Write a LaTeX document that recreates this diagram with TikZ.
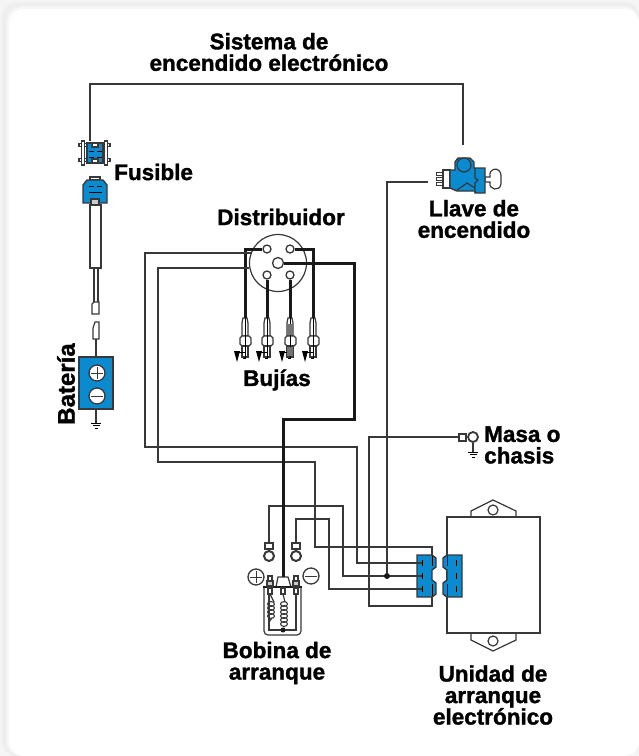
\documentclass[tikz,border=0pt]{standalone}
\usepackage{fontspec}
\setmainfont[BoldFeatures={FakeBold=1.4}]{Liberation Sans}
\definecolor{azul}{HTML}{0A8BD0}
\definecolor{hilo}{HTML}{383838}
\tikzset{
  wire/.style={draw=hilo,line width=1.2pt},
  hvwire/.style={draw=black!90,line width=3pt},
  part/.style={draw=hilo,line width=1.2pt},
  fine/.style={draw=black,line width=.9pt},
  bluepart/.style={draw=hilo,line width=1.4pt,fill=azul},
  contact/.style={circle,draw=hilo,line width=1.3pt,fill=white,inner sep=0pt,minimum size=#1},
  tag/.style={font=\fontsize{22.5}{21.5}\selectfont\bfseries,inner sep=0pt,text=black}
}
\begin{document}
\begin{tikzpicture}[x=1pt,y=-1pt]
    \useasboundingbox (0,0) rectangle (639,756);
    %soft edge of the panel
    \fill[black!4] (0,0) rectangle (639,756);
    \foreach \i/\s in {1/5,3/7,5/6,7/3,9/0}
        \fill[black!\s,rounded corners=15pt] (\i,\i) rectangle (639,756);

    %captions
    \node[tag,align=center] (sistema) at (269,52) {Sistema de\\encendido electrónico};
    \node[tag,anchor=west] (fusiblelab) at (114,172) {Fusible};
    \node[tag] (distlab) at (281,217) {Distribuidor};
    \node[tag,align=center] (llavelab) at (474,219) {Llave de\\encendido};
    \node[tag,rotate=90,font=\fontsize{24}{24}\selectfont\bfseries] (batlab) at (66,384) {Batería};
    \node[tag] (bujlab) at (277,380) {Bujías};
    \node[tag,align=left,anchor=west] (masalab) at (484,445) {Masa o\\chasis};
    \node[tag,align=center] (boblab) at (277,663) {Bobina de\\arranque};
    \node[tag,align=center] (unilab) at (493,695) {Unidad de\\arranque\\electrónico};

    %fuse
    \node[bluepart,minimum width=16,minimum height=20,inner sep=0pt] (fusible) at (95,153) {};
    \foreach \y in {145,160}{
        \draw[part,fill=white] (79,\y-1.5) rectangle (87,\y+1.5);
        \draw[part,fill=white] (103,\y-1.5) rectangle (110,\y+1.5);
    }
    \foreach \x in {83,106}
        \draw[part,fill=white] (\x-1.5,141) rectangle (\x+1.5,165);
    \draw[part,fill=white] (92,143) rectangle (98,147);
    \draw[part,fill=white] (92,159) rectangle (98,163);
    \foreach \y in {151,157}
        \foreach \x in {89,97}
            \draw[fine] (\x,\y) -- (\x+5,\y);
    \coordinate (fusein) at (90,141);

    %fuse holder and lead
    \draw[part,fill=white] (90,177) rectangle (100,179.5);
    \draw[bluepart] (87,180) -- (103,180) -- (107,185) -- (107,203) -- (83,203) -- (83,185) -- cycle;
    \foreach \x in {89,97}
        \draw[fine] (\x,186) -- (\x+5,186);
    \draw[fine] (89,192) -- (102,192);
    \draw[part,fill=black!20] (91,199) rectangle (99,205);
    \draw[part,fill=white] (90,205) rectangle (101,268);
    \draw[part,fill=white] (94,268) rectangle (98,303);
    \draw[part,fill=white] (92,304) -- (94,302) -- (99,302) -- (99,314) -- (92,314) -- cycle;
    \draw[part,fill=white] (95,322) -- (99,322) -- (99,339) -- (93,339) -- (93,328) -- cycle;
    \coordinate (macho) at (96,339);

    %battery
    \node[bluepart,minimum width=34,minimum height=52] (bateria) at (96,383) {};
    \draw[wire] (macho) -- (bateria.north);
    \node[contact=16] (batplus) at (97,373) {};
    \node[contact=16] (batminus) at (97,396) {};
    \draw[fine,draw=hilo] (91,373) -- (103,373) (97,367) -- (97,379);
    \draw[fine,draw=hilo] (91,396) -- (103,396);
    \coordinate (tierrabat) at (96,423);
    \draw[wire] (bateria.south) -- (tierrabat);
    \foreach \y/\w in {0/5,2.5/3.5,5/1.5}
        \draw[fine] (96-\w,423+\y) -- (96+\w,423+\y);

    %key switch
    \foreach \y in {172,177,182}
        \draw[part,line width=1pt,fill=white] (436,\y) rectangle (443,\y+3);
    \draw[part,fill=white] (443,170) rectangle (450,188);
    \draw[part,fill=white] (485,177) -- (490,177) .. controls (488,168) and (500,166) .. (501,175)
        -- (501,184) .. controls (500,192) and (488,190) .. (490,182) -- (485,182) -- cycle;
    \draw[bluepart] (450,170) -- (455,170) -- (455,162) -- (458,158) -- (470,158) -- (474,162) -- (474,168)
        -- (485,168) -- (485,193) -- (475,193) -- (475,191) -- (457,191) -- (450,188) -- cycle;
    \draw[part] (475,168) -- (475,178) -- (478,180) -- (475,183) -- (475,193);
    \draw[part] (457,190) -- (467,183) -- (475,188);
    \draw[part,fill=azul] (464,165) circle (7);
    \coordinate (llaveout) at (463,145);
    \coordinate (llavein) at (428,182);

    %distributor
    \node[circle,draw=hilo,line width=1.2pt,fill=white,minimum size=57,inner sep=0pt] (dist) at (278,263) {};
    \node[contact=8] (cap1) at (267,249) {};
    \node[contact=8] (cap2) at (267,275) {};
    \node[contact=8] (cap3) at (290,275) {};
    \node[contact=8] (cap4) at (290,249) {};
    \node[contact=11] (rotor) at (278,263) {};

    %plugs
    \foreach \x [count=\i] in {245,267,290,313}{
        \coordinate (bujia\i) at (\x,318);
        \draw[part,fill=white] (\x-2,318) -- (\x+2,318) -- (\x+3,323) -- (\x+3,336) -- (\x-3,336) -- (\x-3,323) -- cycle;
        \draw[part,fill=white] (\x-5,338) -- (\x-3,336) -- (\x+4,336) -- (\x+6,338) -- (\x+6,344) -- (\x+4,346) -- (\x-3,346) -- (\x-5,344) -- cycle;
        \draw[part,fill=white] (\x-3,346) rectangle (\x+3,357);
        \draw[fine] (\x,318) -- (\x,358) -- (\x-2,358);
        \draw[fine] (\x-8,352) -- (\x,352);
        \fill[black] (\x-11,351) -- (\x-5,351) -- (\x-8,362) -- cycle;
    }
    \fill[black!55] (287,324) rectangle (293,335);
    \fill[black!55] (287,347) rectangle (293,356);

    \draw[hvwire] (cap1) -| (bujia1);
    \draw[hvwire] (cap2) -- (bujia2);
    \draw[hvwire] (cap3) -- (bujia3);
    \draw[hvwire] (cap4) -| (bujia4);

    %coil
    \coordinate (torre) at (283,577);
    \draw[part,rounded corners=4pt] (264,587) -- (264,635) -- (301,635) -- (301,587);
    \draw[part] (269,592) -- (269,630) -- (296,630) -- (296,592);
    \draw[part,fill=white] (278,577) -- (288,577) -- (291,587) -- (276,587) -- cycle;
    \draw[black!90,line width=2.2pt] (263,587) -- (302,587);
    \foreach \x in {270,283,296}
        \draw[part,fill=white] (\x-2,588) rectangle (\x+2,594);
    \foreach \x in {270,296}{
        \draw[part,fill=white] (\x-2,576) rectangle (\x+2,581);
        \draw[part,fill=black!20] (\x-3,581) rectangle (\x+3,586);
    }
    \draw[part] (270,594) -- (274,602);
    \foreach \y in {604,608,612,616}
        \draw[part,line width=1.1pt] (271,\y) ellipse (3.5 and 2.4);
    \draw[part] (272,618) -- (269,622);
    \draw[part] (283,594) -- (285,602);
    \foreach \y in {604,608,612,616,620,624}
        \draw[part,line width=1.1pt] (284,\y) ellipse (3.5 and 2.4);
    \node[circle,fill=black!90,inner sep=0pt,minimum size=5] (nudo) at (283,630) {};
    \draw[part] (284,626) -- (nudo);
    \node[contact=16,fill=none] (bobplus) at (256,577) {};
    \node[contact=16,fill=none] (bobminus) at (311,576) {};
    \draw[fine,draw=hilo] (250,577) -- (262,577) (256,571) -- (256,583);
    \draw[fine,draw=hilo] (305,576) -- (317,576);

    %ring terminals
    \foreach \x [count=\i] in {269,296}{
        \coordinate (anillo\i) at (\x,543);
        \draw[part,fill=white] (\x-4,543) rectangle (\x+4,549);
        \draw[part,line width=2pt,fill=white] (\x,556) circle (5);
    }

    %electronic unit
    \node[part,draw,minimum width=93,minimum height=116,inner sep=0pt] (unidad) at (493.5,575) {};
    \draw[part] (471,517) -- (471,511) -- (493,500) -- (516,511) -- (516,517);
    \draw[part] (493,510) circle (5);
    \draw[part] (471,633) -- (471,640) -- (493,651) -- (516,640) -- (516,633);
    \draw[part] (493,641) circle (5);

    %plug halves
    \draw[bluepart] (417,555) -- (432,555) -- (436,558) -- (436,567) -- (432,570) -- (432,580) -- (436,583) -- (436,594) -- (432,597) -- (417,597) -- cycle;
    \draw[bluepart] (462,555) -- (447,555) -- (443,558) -- (443,567) -- (447,570) -- (447,580) -- (443,583) -- (443,594) -- (447,597) -- (462,597) -- cycle;
    \coordinate (patilla1) at (422,563);
    \coordinate (patilla2) at (422,576);
    \coordinate (patilla3) at (422,589);
    \coordinate (tapasup) at (432,555);
    \coordinate (tapainf) at (432,597);
    \foreach \y in {563,576,589}{
        \draw[fine] (422,\y-3) -- (422,\y+3);
        \draw[fine] (456,\y-3) -- (456,\y+3);
    }
    \foreach \x in {432,447}{
        \draw[fine] (\x,556) -- (\x,566);
        \draw[fine] (\x,584) -- (\x,596);
    }

    %ground point
    \draw[part,fill=white] (459,434) rectangle (466,441);
    \draw[part,line width=1.8pt,fill=white] (473,437) circle (5);
    \coordinate (masa) at (459,437);
    \draw[wire] (473,443) -- (473,452);
    \foreach \y/\w in {0/5,2.5/3.5,5/1.5}
        \draw[fine] (473-\w,452+\y) -- (473+\w,452+\y);

    %wiring
    \draw[wire] (fusein) |- (300,84) -| (llaveout);
    \draw[wire] (dist.160) -| (145,447) -| (357,563) -- (patilla1);
    \draw[wire] (dist.190) -| (158,462) -| (315,547) -| (tapasup);
    \draw[wire] (anillo1) |- (343,506) |- (patilla2);
    \draw[wire] (anillo2) |- (329,519) |- (patilla3);
    \draw[wire] (masa) -| (369,606) -| (tapainf);
    \node[circle,fill=black!90,inner sep=0pt,minimum size=6] (union) at (387,576) {};
    \draw[wire] (llavein) -| (union);
    \draw[hvwire] (rotor) -| (354,419) -| (torre);
\end{tikzpicture}
\end{document}
